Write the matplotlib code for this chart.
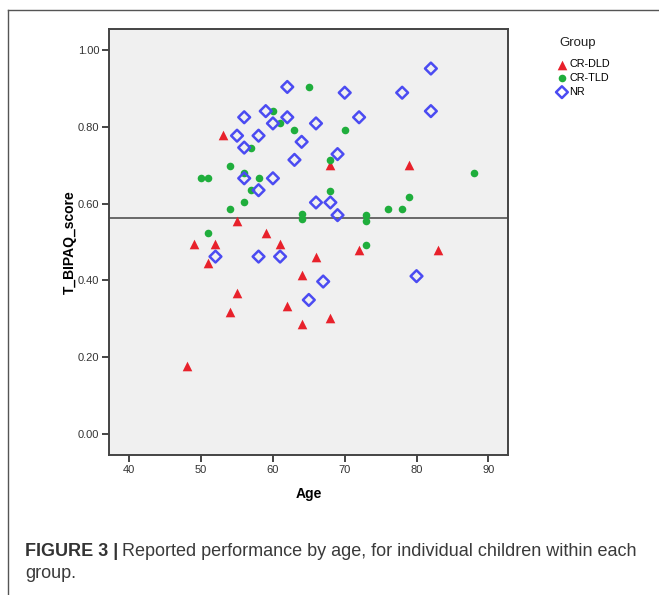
import matplotlib.pyplot as plt
from matplotlib.lines import Line2D

plt.rcParams['font.family'] = ['Liberation Sans', 'DejaVu Sans']

# CR-DLD (red triangles)
dld_age = [48, 49, 51, 52, 53, 54, 55, 55, 59, 61, 62, 64, 64, 66, 68, 68, 72, 79, 83]
dld_score = [0.177, 0.494, 0.446, 0.494, 0.779, 0.318, 0.556, 0.366, 0.524, 0.494,
             0.334, 0.414, 0.286, 0.462, 0.700, 0.303, 0.479, 0.700, 0.479]

# CR-TLD (green circles)
tld_age = [50, 51, 51, 54, 54, 56, 56, 57, 57, 58, 60, 61, 63, 64, 64, 65,
           68, 68, 70, 73, 73, 73, 76, 78, 79, 88]
tld_score = [0.667, 0.667, 0.524, 0.698, 0.587, 0.681, 0.603, 0.746, 0.635, 0.667,
             0.841, 0.809, 0.793, 0.574, 0.561, 0.904, 0.714, 0.634, 0.793, 0.570,
             0.555, 0.491, 0.586, 0.586, 0.618, 0.681]

# NR (blue diamonds)
nr_age = [52, 55, 56, 56, 56, 58, 58, 58, 59, 60, 60, 61, 62, 62, 63, 64, 65,
          66, 66, 67, 68, 69, 69, 70, 72, 78, 80, 82, 82]
nr_score = [0.462, 0.777, 0.825, 0.746, 0.666, 0.777, 0.635, 0.462, 0.841, 0.809,
            0.666, 0.462, 0.904, 0.825, 0.714, 0.761, 0.349, 0.809, 0.603, 0.397,
            0.603, 0.729, 0.570, 0.889, 0.825, 0.889, 0.411, 0.952, 0.841]

ref_line = 0.563
x_ticks = [40, 50, 60, 70, 80, 90]
y_ticks = [0.0, 0.2, 0.4, 0.6, 0.8, 1.0]

fig = plt.figure(figsize=(6.59, 5.95), dpi=100)
W, H = 659, 595

# frame around the figure
fig.add_artist(Line2D([8 / W, 8 / W], [0, 1 - 10 / H], transform=fig.transFigure, color='#555555', lw=1))
fig.add_artist(Line2D([8 / W, 1], [1 - 10 / H, 1 - 10 / H], transform=fig.transFigure, color='#555555', lw=1))

ax = fig.add_axes([109 / W, 140 / H, 399 / W, 426 / H])
ax.set_facecolor('#f0f0f0')

ax.scatter(dld_age, dld_score, marker='^', s=48, color='#e8212b', linewidths=0, label='CR-DLD', zorder=3)
ax.scatter(tld_age, tld_score, marker='o', s=30, color='#1fae3c', linewidths=0, label='CR-TLD', zorder=3)
ax.scatter(nr_age, nr_score, marker='D', s=36, facecolor='none', edgecolor='#4b4bf2', linewidths=1.8,
           label='NR', zorder=3)
ax.axhline(ref_line, color='#444444', lw=1.1, zorder=2)

ax.set_xlim(37.17, 92.74)
ax.set_ylim(-0.055, 1.055)
ax.set_xticks(x_ticks)
ax.set_yticks(y_ticks)
ax.set_yticklabels(['%.2f' % v for v in y_ticks])
for s in ax.spines.values():
    s.set_color('#444444')
    s.set_linewidth(1.4)
ax.tick_params(direction='out', length=5, width=1.4, color='#444444', labelsize=8, labelcolor='#333333', pad=2)

ax.set_xlabel('Age', fontsize=10, fontweight='bold', labelpad=9)
ax.set_ylabel('T_BIPAQ_score', fontsize=10, fontweight='bold', labelpad=1)

fig.text(578 / W, 1 - 43 / H, 'Group', fontsize=9.5, ha='center', va='center', color='#222222')
leg = fig.legend(loc='upper left', bbox_to_anchor=(550 / W, 1 - 54 / H), frameon=False,
                 fontsize=7.8, handletextpad=0.1, labelspacing=0.35,
                 handlelength=1.2, borderpad=0)

# caption
t1 = fig.text(25 / W, 1 - 551 / H, 'FIGURE 3 |', fontsize=13, fontweight='bold', color='#333333', va='center')
fig.canvas.draw()
bb = t1.get_window_extent()
fig.text((bb.x1 + 4) / W, 1 - 551 / H, 'Reported performance by age, for individual children within each',
         fontsize=13, color='#3a3a3a', va='center')
fig.text(25 / W, 1 - 574 / H, 'group.', fontsize=13, color='#3a3a3a', va='center')

fig.savefig('out.png', dpi=100)
